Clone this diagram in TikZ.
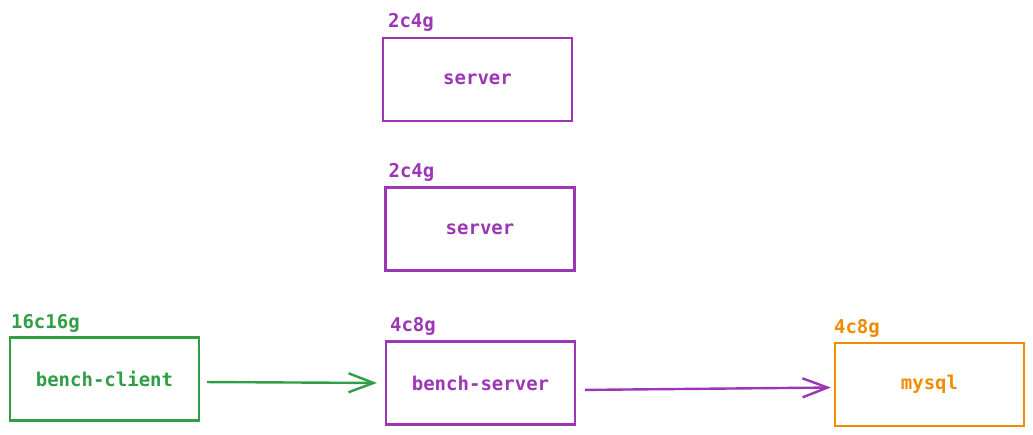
\documentclass[tikz,border=0pt]{standalone}
\usepackage{fontspec}
\setmonofont{DejaVu Sans Mono}
\usetikzlibrary{arrows.meta}
\definecolor{exgreen}{HTML}{2F9E44}
\definecolor{expurple}{HTML}{9C36B5}
\definecolor{exorange}{HTML}{F08C00}
\tikzset{
  box/.style={draw=#1, text=#1, line width=2.2pt, minimum width=189pt, minimum height=83pt,
    inner sep=0pt, font=\ttfamily\bfseries\fontsize{19}{21}\selectfont},
  spec/.style={text=#1, anchor=base west, inner sep=0pt, font=\ttfamily\bfseries\fontsize{19}{21}\selectfont},
  conn/.style={draw=#1, line width=2.4pt, -{Straight Barb[length=25pt,width=19pt,line width=2.4pt]}}
}
\begin{document}
\begin{tikzpicture}[x=1pt,y=-1pt]
\useasboundingbox (0,0) rectangle (1033,435);
\node[box=expurple] (s1) at (477.5,79.5) {server};
\node[box=expurple] (s2) at (480,229) {server};
\node[box=exgreen] (bc) at (104.5,379) {bench-client};
\node[box=expurple] (bs) at (480.5,383) {bench-server};
\node[box=exorange] (my) at (929.5,384.5) {mysql};
\node[spec=expurple] (l1) at ([xshift=6pt,yshift=9pt]s1.north west) {2c4g};
\node[spec=expurple] (l2) at ([xshift=4pt,yshift=9pt]s2.north west) {2c4g};
\node[spec=exgreen] (l3) at ([xshift=2pt,yshift=8pt]bc.north west) {16c16g};
\node[spec=expurple] (l4) at ([xshift=5pt,yshift=9pt]bs.north west) {4c8g};
\node[spec=exorange] (l5) at ([xshift=0pt,yshift=8pt]my.north west) {4c8g};
\draw[conn=exgreen, shorten <=7pt, shorten >=8pt] ([yshift=-3pt]bc.east) -- (bs.west);
\draw[conn=expurple, shorten <=9pt, shorten >=3pt] ([yshift=-7pt]bs.east) -- ([yshift=-3pt]my.west);
\end{tikzpicture}
\end{document}
